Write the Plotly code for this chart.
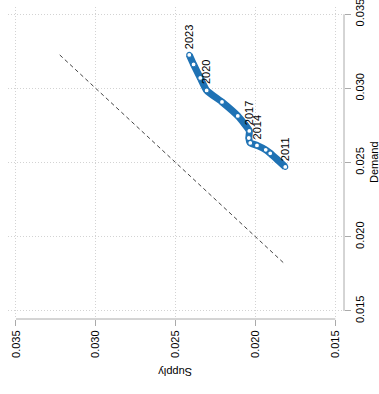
import plotly.graph_objects as go

years = [2011, 2012, 2013, 2014, 2015, 2016, 2017, 2018, 2019, 2020, 2021, 2022, 2023]
supply = [0.01814, 0.01908, 0.01936, 0.01991, 0.02033, 0.02042, 0.02039,
          0.02111, 0.02210, 0.02306, 0.02346, 0.02388, 0.02415]
demand = [0.02471, 0.02563, 0.02586, 0.02616, 0.02633, 0.02666, 0.02714,
          0.02815, 0.02909, 0.02987, 0.03071, 0.03162, 0.03226]
label_years = [2011, 2014, 2017, 2020, 2023]
tick_vals = [0.015, 0.020, 0.025, 0.030, 0.035]
tick_text = ["0.015", "0.020", "0.025", "0.030", "0.035"]

FONT = "Liberation Sans, Arial, sans-serif"
BLUE = "#1f72b4"
AXIS = "#aaaaaa"
GRID = "#d3d3d3"

lo = min(min(supply), min(demand))
hi = max(max(supply), max(demand))

fig = go.Figure()
fig.add_trace(go.Scatter(x=[hi, lo], y=[hi, lo], mode="lines",
                         line=dict(color="#444444", width=1, dash="4px,3px"),
                         hoverinfo="skip", showlegend=False))
fig.add_trace(go.Scatter(x=supply, y=demand, mode="lines+markers",
                         line=dict(color=BLUE, width=7, shape="spline", smoothing=0.5),
                         marker=dict(size=5, color="white", line=dict(color=BLUE, width=1.2)),
                         showlegend=False))

for yr, sx, dy in zip(years, supply, demand):
    if yr in label_years:
        fig.add_annotation(x=sx, y=dy, text=str(yr), showarrow=False,
                           textangle=-90, xanchor="center", yanchor="bottom",
                           yshift=4, font=dict(family=FONT, size=11, color="black"))

# axis lines (R style, from first to last tick)
fig.add_shape(type="line", xref="x", yref="paper", x0=0.035, x1=0.015, y0=0, y1=0,
              line=dict(color=AXIS, width=1))
fig.add_shape(type="line", xref="paper", yref="y", x0=1, x1=1, y0=0.015, y1=0.035,
              line=dict(color=AXIS, width=1))

fig.add_annotation(xref="paper", yref="paper", x=(175 - 8) / (344 - 8), y=-(372 - 319) / (319 - 7),
                   xanchor="center", yanchor="middle",
                   text="Supply", showarrow=False, textangle=180,
                   font=dict(family=FONT, size=11, color="black"))
fig.add_annotation(xref="paper", yref="paper", x=1 + (374 - 344) / (344 - 8),
                   y=(319 - 162) / (319 - 7), xanchor="center", yanchor="middle",
                   text="Demand", showarrow=False, textangle=-90,
                   font=dict(family=FONT, size=11, color="black"))

common = dict(tickvals=tick_vals, ticktext=tick_text, tickangle=-90,
              ticks="outside", ticklen=6, tickcolor=AXIS, showline=False,
              zeroline=False, showgrid=True, gridcolor=GRID, griddash="1px,2px",
              gridwidth=1, ticklabeloverflow="allow", automargin=False,
              tickfont=dict(family=FONT, size=11, color="black"))
fig.update_xaxes(range=[0.0355, 0.01446], ticklabelstandoff=0, **common)
fig.update_yaxes(range=[0.01446, 0.03549], side="right", ticklabelstandoff=0, **common)

fig.update_layout(width=379, height=394, margin=dict(l=8, r=35, t=7, b=75, autoexpand=False),
                  plot_bgcolor="white", paper_bgcolor="white", showlegend=False)

fig.write_html("out.html")
